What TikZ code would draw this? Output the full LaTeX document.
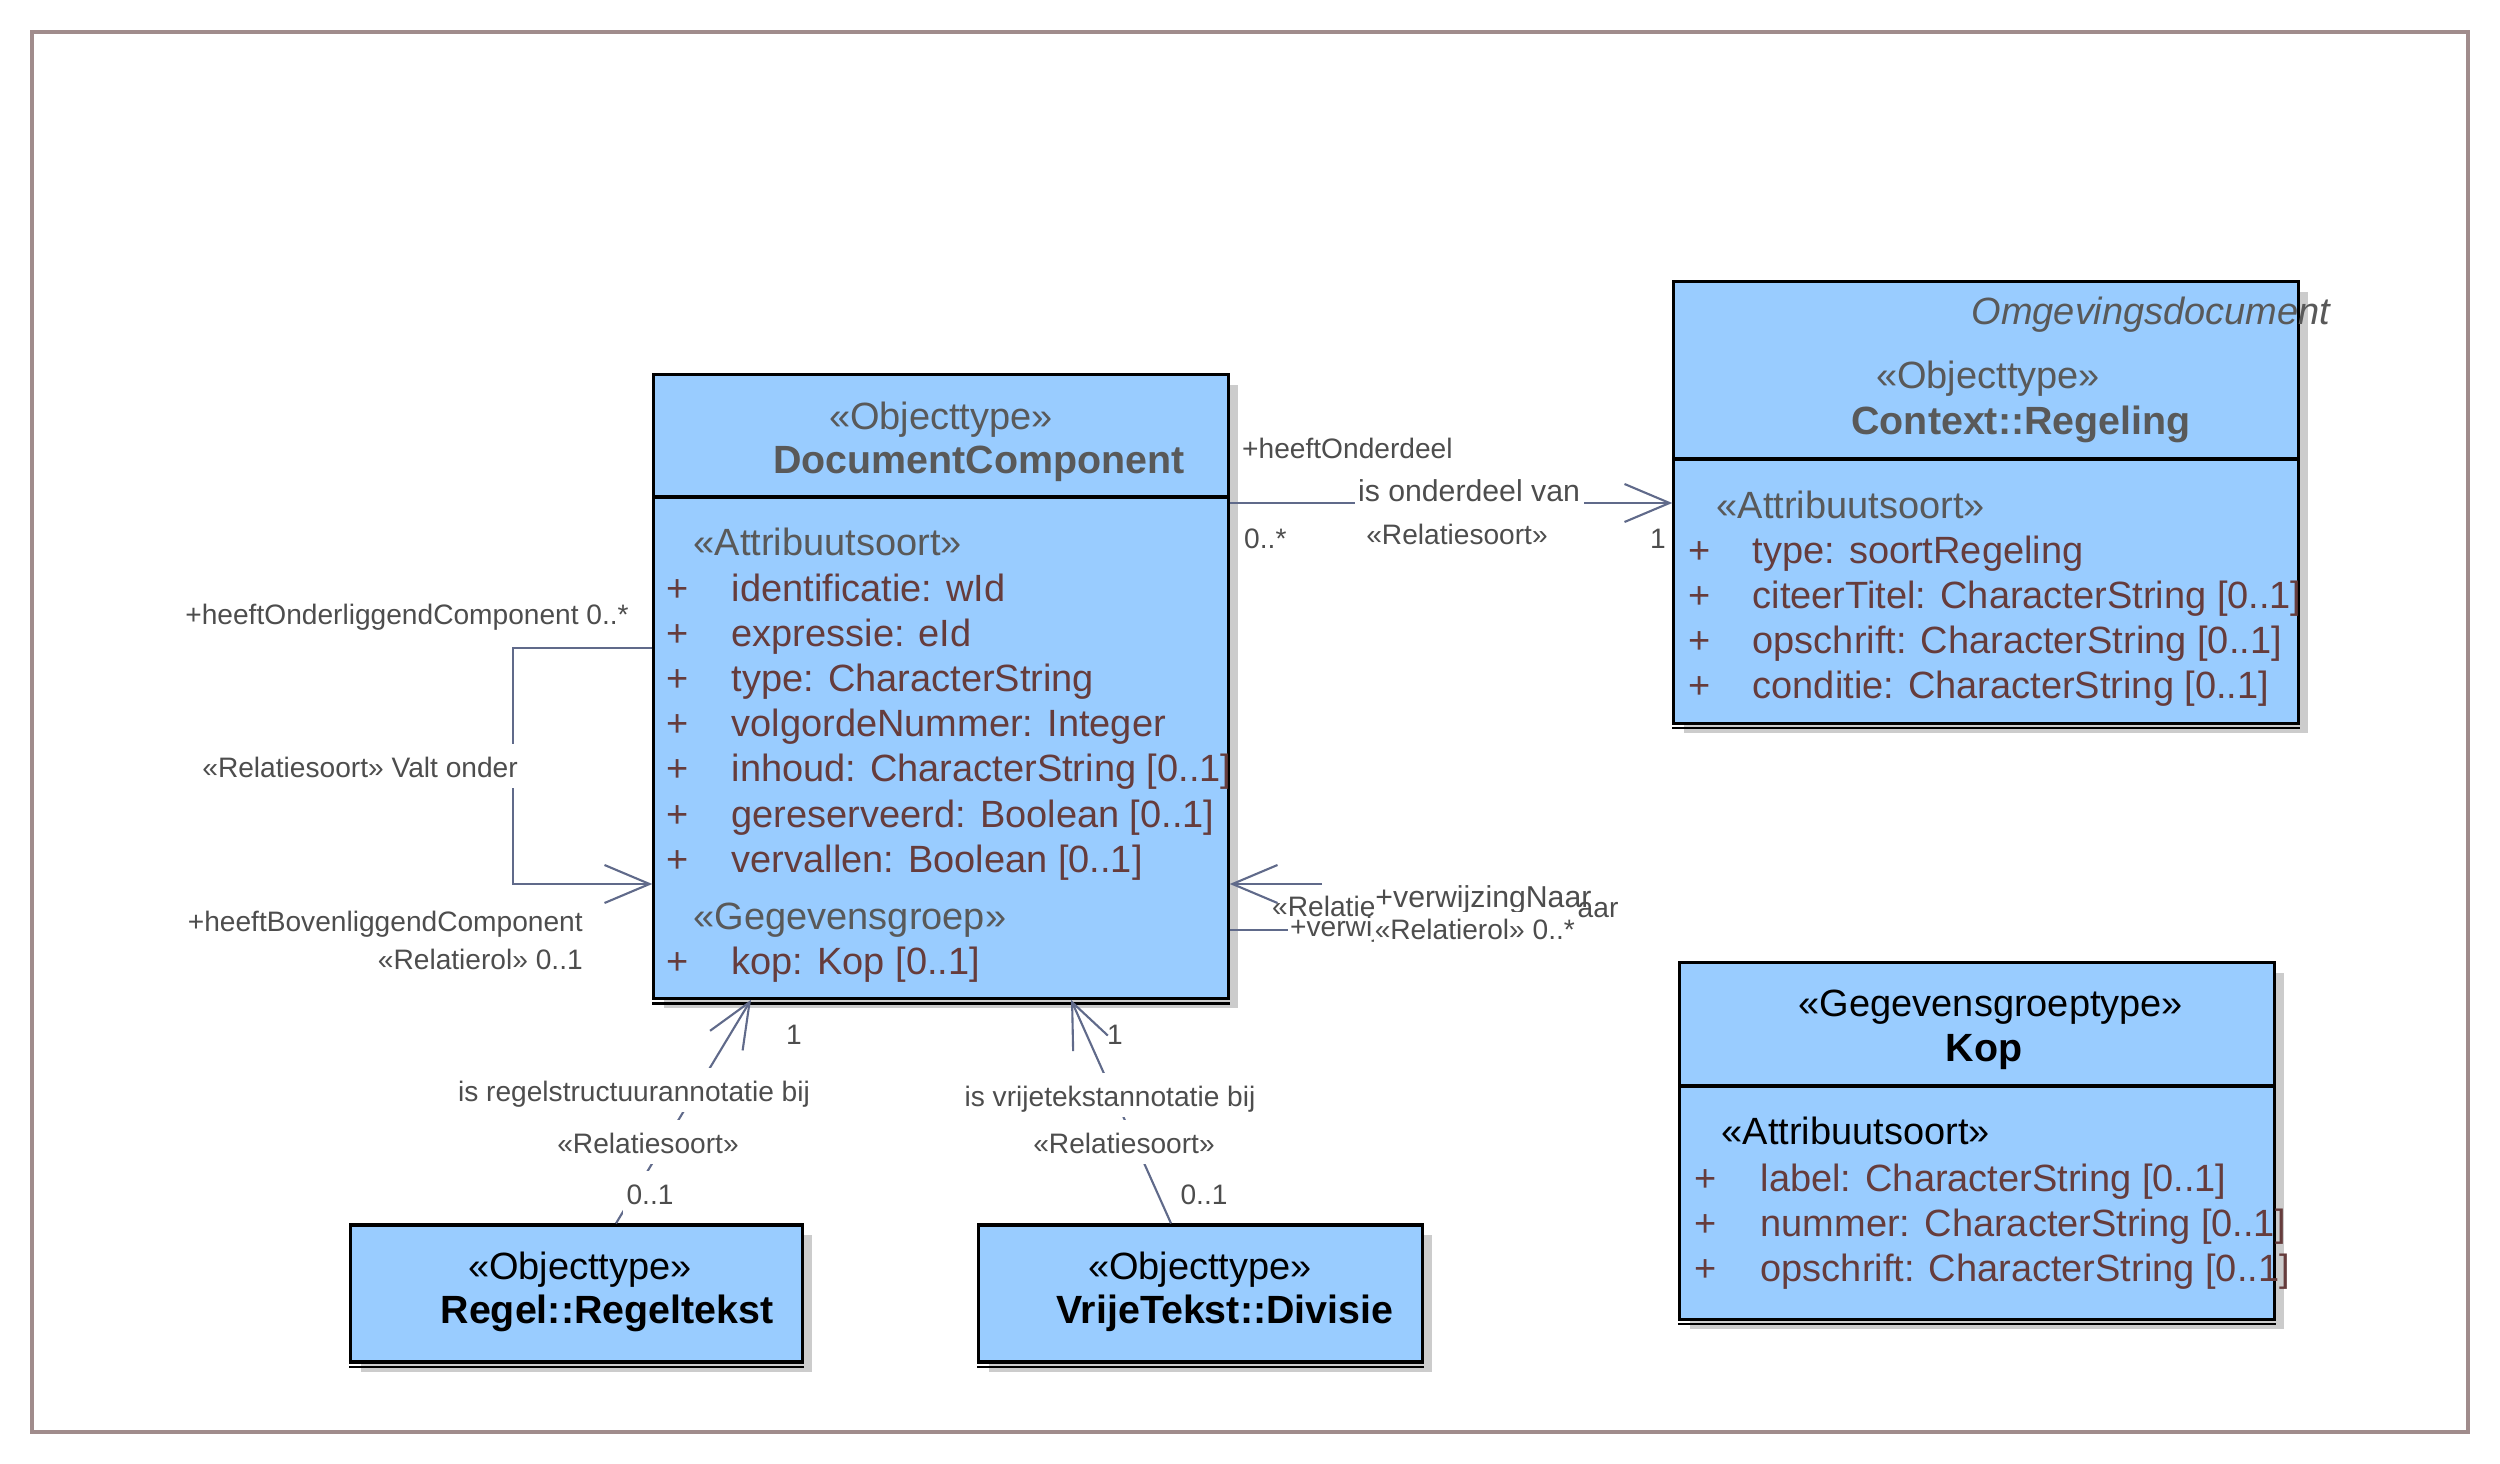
\documentclass[tikz,border=0pt]{standalone}
\usepackage{fontspec}
\setmainfont{Liberation Sans}
\usetikzlibrary{arrows.meta, shadows}

\definecolor{boxfill}{RGB}{153,204,255}
\definecolor{hdrgray}{RGB}{89,89,89}
\definecolor{attrbrown}{RGB}{102,60,60}
\definecolor{linkcol}{RGB}{96,106,138}
\definecolor{labelgray}{RGB}{77,77,77}
\definecolor{framecol}{RGB}{160,140,140}

\begin{document}
\begin{tikzpicture}[x=0.01cm, y=-0.01cm,
  umlbox/.style={draw=black, line width=0.9pt, fill=boxfill, inner sep=0pt,
    general shadow={fill=black!20, shadow xshift=0.1cm, shadow yshift=-0.1cm}},
  boxtxt/.style={font=\fontsize{10.8}{13}\selectfont, inner sep=0pt, text height=1.6ex, text depth=.4ex},
  hdr/.style={boxtxt, text=hdrgray},
  attr/.style={boxtxt, text=attrbrown},
  clsname/.style={boxtxt, font=\fontsize{11.2}{13}\selectfont\bfseries},
  assoc/.style={draw=linkcol, line width=0.6pt},
  opentip/.style={-{Straight Barb[length=0.45cm, width=0.38cm]}},
  lbl/.style={font=\fontsize{8}{10}\selectfont, text=labelgray, inner sep=1pt, text height=1.6ex, text depth=.4ex},
  lblw/.style={lbl, fill=white}]
  \useasboundingbox (0,0) rectangle (2500,1464);
  \draw[framecol, line width=0.9pt] (32,32) rectangle (2468,1432);

  % boxes
  \node[umlbox, minimum width=5.74cm, minimum height=6.23cm] (dc) at (941,686.5) {};
  \node[umlbox, minimum width=6.24cm, minimum height=4.41cm] (reg) at (1986,502.5) {};
  \node[umlbox, minimum width=5.94cm, minimum height=3.56cm] (kop) at (1977,1141) {};
  \node[umlbox, minimum width=4.51cm, minimum height=1.37cm] (rt) at (576.5,1293.5) {};
  \node[umlbox, minimum width=4.43cm, minimum height=1.37cm] (dv) at (1200.5,1293.5) {};
  \foreach \b in {dc,reg,kop,rt,dv}
    \draw[line width=0.7pt] ([yshift=-0.035cm]\b.south west) -- ([yshift=-0.035cm]\b.south east);
  \draw[line width=0.9pt] (dc.west |- 0,497) -- (dc.east |- 0,497);
  \draw[line width=0.9pt] (reg.west |- 0,459) -- (reg.east |- 0,459);
  \draw[line width=0.9pt] (kop.west |- 0,1086) -- (kop.east |- 0,1086);

  % DocumentComponent
  \node[hdr] (dcst) at (941,418) {«Objecttype»};
  \node[clsname, text=hdrgray] (dcname) at (979,462) {DocumentComponent};
  \node[hdr, anchor=west] (dcas) at (693,544) {«Attribuutsoort»};
  \foreach \txt [count=\i from 0] in {identificatie: wId, expressie: eId, type: CharacterString,
      volgordeNummer: Integer, inhoud: CharacterString [0..1], gereserveerd: Boolean [0..1],
      vervallen: Boolean [0..1]}{
    \node[attr] (dcp\i) at (678,{590+45.2*\i}) {+};
    \node[attr, anchor=west] (dca\i) at (731,{590+45.2*\i}) {\txt};
  }
  \node[hdr, anchor=west] (dcgg) at (693,918) {«Gegevensgroep»};
  \node[attr] (dcpk) at (678,963) {+};
  \node[attr, anchor=west] (dckop) at (731,963) {kop: Kop [0..1]};

  % Context::Regeling
  \node[hdr, font=\fontsize{10.8}{13}\selectfont\itshape] (regpkg) at (2151,313) {Omgevingsdocument};
  \node[hdr] (regst) at (1988,377) {«Objecttype»};
  \node[clsname, text=hdrgray] (regname) at (2021,423) {Context::Regeling};
  \node[hdr, anchor=west] (regas) at (1716,507) {«Attribuutsoort»};
  \foreach \txt [count=\i from 0] in {type: soortRegeling, citeerTitel: CharacterString [0..1],
      opschrift: CharacterString [0..1], conditie: CharacterString [0..1]}{
    \node[attr] (regp\i) at (1700,{552+45*\i}) {+};
    \node[attr, anchor=west] (rega\i) at (1752,{552+45*\i}) {\txt};
  }

  % Kop
  \node[boxtxt] (kopst) at (1991,1005) {«Gegevensgroeptype»};
  \node[clsname] (kopname) at (1984,1050) {Kop};
  \node[boxtxt, anchor=west] (kopas) at (1721,1133) {«Attribuutsoort»};
  \foreach \txt [count=\i from 0] in {label: CharacterString [0..1], nummer: CharacterString [0..1],
      opschrift: CharacterString [0..1]}{
    \node[attr] (kopp\i) at (1706,{1180+45*\i}) {+};
    \node[attr, anchor=west] (kopa\i) at (1760,{1180+45*\i}) {\txt};
  }

  % Regeltekst, Divisie
  \node[boxtxt] (rtst) at (580,1268) {«Objecttype»};
  \node[clsname] (rtname) at (607,1312) {Regel::Regeltekst};
  \node[boxtxt] (dvst) at (1200,1268) {«Objecttype»};
  \node[clsname] (dvname) at (1225,1312) {VrijeTekst::Divisie};

  % is onderdeel van
  \draw[assoc, opentip] (dc.east |- 0,503) -- (reg.west |- 0,503);
  \node[lblw, anchor=west] (onda) at (1238,447) {+heeftOnderdeel};
  \node[lblw, font=\fontsize{8.6}{10}\selectfont] (ondb) at (1469,490) {is onderdeel van};
  \node[lbl] (ondc) at (1457,533) {«Relatiesoort»};
  \node[lbl, anchor=west] (ondm1) at (1240,537) {0..*};
  \node[lbl] (ondm2) at (1658,537) {1};

  % Valt onder
  \draw[assoc, opentip] (dc.west |- 0,648) -| (513,766) |- (dc.west |- 0,884);
  \node[lblw, anchor=east] (valta) at (522,766) {«Relatiesoort» Valt onder};
  \node[lbl, anchor=east] (valtb) at (633,613) {+heeftOnderliggendComponent 0..*};
  \node[lbl, anchor=east] (valtc) at (587,920) {+heeftBovenliggendComponent};
  \node[lbl, anchor=east] (valtd) at (587,958) {«Relatierol» 0..1};

  % is regelstructuurannotatie bij
  \draw[assoc, opentip] (rt.north -| 616,0) -- (dc.south -| 751,0);
  \node[lblw] (rsa) at (634,1090) {is regelstructuurannotatie bij};
  \node[lblw] (rsb) at (648,1142) {«Relatiesoort»};
  \node[lblw] (rsm1) at (650,1193) {0..1};
  \node[lbl] (rsm2) at (794,1033) {1};

  % is vrijetekstannotatie bij
  \draw[assoc, opentip] (dv.north -| 1171,0) -- (dc.south -| 1071,0);
  \node[lblw] (vta) at (1110,1095) {is vrijetekstannotatie bij};
  \node[lblw] (vtb) at (1124,1142) {«Relatiesoort»};
  \node[lbl] (vtm1) at (1204,1193) {0..1};
  \node[lbl] (vtm2) at (1115,1033) {1};

  % verwijzingNaar
  \coordinate (vwa) at (1322,884);
  \coordinate (vwb) at (1288,930);
  \draw[assoc, opentip] (vwa) -- (dc.east |- vwa);
  \draw[assoc] (dc.east |- vwb) -- (vwb);
  \node[lbl, anchor=west] (vwc) at (1268,905) {«Relatiesoort»};
  \node[lbl, anchor=west] (vwd) at (1286,925) {+verwijzingNaar};
  \node[lblw, anchor=west, inner sep=0.5pt, font=\fontsize{8.6}{10}\selectfont] (vwe) at (1373,896) {+verwijzingNaar};
  \node[lbl, anchor=west, inner sep=0pt] (vwf) at (1577,906) {aar};
  \node[lblw, anchor=west, inner sep=0.3pt, text height=1.45ex] (vwg) at (1373,930) {«Relatierol» 0..*};
\end{tikzpicture}
\end{document}
